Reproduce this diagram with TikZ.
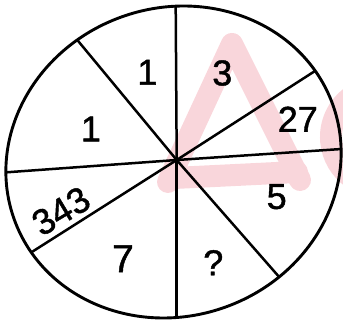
\documentclass[tikz,border=0pt]{standalone}
\usepackage{fontspec}
\setmainfont{Liberation Sans}
\newfontfamily\numfont[FakeBold=1.2]{Liberation Sans}
\usetikzlibrary{calc}
\definecolor{wm}{RGB}{249,214,219}
\tikzset{
  rim/.style={line width=2.9pt, draw=black},
  spoke/.style={line width=2.5pt, draw=black},
  num/.style={inner sep=0pt, font=\numfont\fontsize{36}{42}\selectfont},
  mark wm/.style={draw=wm, line width=22pt, line cap=round, line join=round}
}
\begin{document}
\begin{tikzpicture}[x=1pt, y=-1pt]
\useasboundingbox (0,0) rectangle (343,323);
\clip (0,0) rectangle (343,323);
% watermark
\path[mark wm] (168,182) -- (232,44) -- (300,180);
\path[mark wm] (174,178) -- (297,172);
\path[mark wm] (352.3,96) arc[start angle=125, end angle=235, radius=50pt];
% named points
\coordinate (c) at (176.7,160);
\coordinate (pT) at (175.7,6.7);
\coordinate (pB) at (176.7,318);
\coordinate (pUL) at (77.3,40);
\coordinate (pLR) at (278.3,276);
\coordinate (pL) at (6.7,172.3);
\coordinate (pR) at (341.7,149);
\coordinate (pUR) at (315,71);
\coordinate (pLL) at (32.3,251.7);
% spokes clipped to rim
\begin{scope}
  \clip[shift={(173.5,162)}, rotate=20] (0,0) ellipse [x radius=169.3pt, y radius=154.1pt];
  \foreach \p in {pT,pB,pUL,pLR,pL,pR,pUR,pLL}
    \draw[spoke] (c) -- ($(c)!1.15!(\p)$);
\end{scope}
% rim
\draw[rim, shift={(173.5,162)}, rotate=20] (0,0) ellipse [x radius=169.3pt, y radius=154.1pt];
% numbers
\node[num] (n1) at (147.3,72.3) {1};
\node[num] (n2) at (222.3,73) {3};
\node[num] (n3) at (90.8,129) {1};
\node[num] (n4) at (297.8,119.2) {27};
\node[num, rotate=31] (n5) at (61,211) {343};
\node[num] (n6) at (276.7,196.7) {5};
\node[num, font=\numfont\fontsize{39}{44}\selectfont] (n7) at (123,258.7) {7};
\node[num] (n8) at (213.3,262.7) {?};
\end{tikzpicture}
\end{document}
